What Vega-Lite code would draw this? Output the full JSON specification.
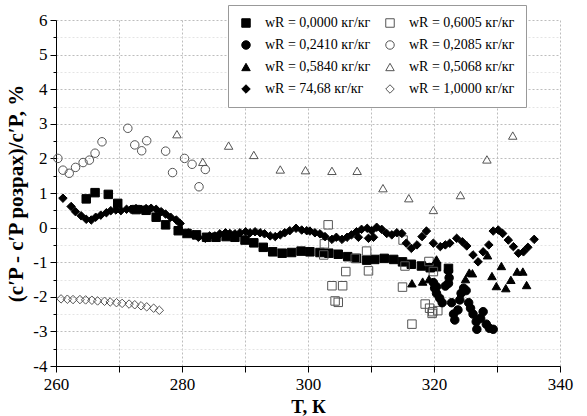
{
 "$schema": "https://vega.github.io/schema/vega-lite/v6.json",
 "width": 504, "height": 346,
 "autosize": "none",
 "padding": {"left": 56, "top": 20, "right": 27, "bottom": 50},
 "background": "white",
 "config": {"font": "Liberation Serif", "view": {"stroke": null},
  "legend": {"title": null, "orient": "none", "legendX": 172, "legendY": -15, "columns": 2, "direction": "horizontal",
    "labelFontSize": 14, "labelColor": "black", "labelFont": "Liberation Serif",
    "rowPadding": 8, "columnPadding": 12, "padding": 11, "labelOffset": 12,
    "strokeColor": "#999999", "fillColor": "white", "symbolStrokeWidth": 1}},
 "data": {"values": [
  {"T":264.8,"v":0.83,"s":"0,0000"},{"T":266.2,"v":1.01,"s":"0,0000"},{"T":268.3,"v":0.96,"s":"0,0000"},{"T":269.8,"v":0.70,"s":"0,0000"},{"T":272.7,"v":0.52,"s":"0,0000"},{"T":274.3,"v":0.50,"s":"0,0000"},{"T":275.9,"v":0.30,"s":"0,0000"},{"T":277.4,"v":0.08,"s":"0,0000"},{"T":279.4,"v":-0.09,"s":"0,0000"},{"T":280.8,"v":-0.17,"s":"0,0000"},{"T":282.3,"v":-0.21,"s":"0,0000"},{"T":283.9,"v":-0.28,"s":"0,0000"},{"T":285.4,"v":-0.28,"s":"0,0000"},{"T":287.0,"v":-0.26,"s":"0,0000"},{"T":288.4,"v":-0.28,"s":"0,0000"},{"T":290.0,"v":-0.36,"s":"0,0000"},{"T":291.4,"v":-0.44,"s":"0,0000"},{"T":292.9,"v":-0.57,"s":"0,0000"},{"T":294.4,"v":-0.70,"s":"0,0000"},{"T":295.9,"v":-0.74,"s":"0,0000"},{"T":297.4,"v":-0.72,"s":"0,0000"},{"T":298.9,"v":-0.68,"s":"0,0000"},{"T":300.3,"v":-0.70,"s":"0,0000"},{"T":301.9,"v":-0.72,"s":"0,0000"},{"T":303.3,"v":-0.74,"s":"0,0000"},{"T":304.8,"v":-0.77,"s":"0,0000"},{"T":306.3,"v":-0.84,"s":"0,0000"},{"T":307.7,"v":-0.89,"s":"0,0000"},{"T":309.3,"v":-0.94,"s":"0,0000"},{"T":310.6,"v":-0.92,"s":"0,0000"},{"T":312.1,"v":-0.89,"s":"0,0000"},{"T":313.6,"v":-0.92,"s":"0,0000"},{"T":315.0,"v":-0.99,"s":"0,0000"},{"T":316.4,"v":-1.06,"s":"0,0000"},{"T":318.0,"v":-1.11,"s":"0,0000"},{"T":319.4,"v":-1.16,"s":"0,0000"},{"T":320.4,"v":-1.13,"s":"0,0000"},{"T":322.3,"v":-1.18,"s":"0,0000"},
  {"T":303.2,"v":0.08,"s":"0,6005"},{"T":302.6,"v":-0.47,"s":"0,6005"},{"T":302.5,"v":-0.79,"s":"0,6005"},{"T":303.8,"v":-1.68,"s":"0,6005"},{"T":305.5,"v":-1.68,"s":"0,6005"},{"T":304.3,"v":-2.12,"s":"0,6005"},{"T":304.8,"v":-2.16,"s":"0,6005"},{"T":306.0,"v":-1.27,"s":"0,6005"},{"T":307.5,"v":-0.89,"s":"0,6005"},{"T":309.3,"v":-0.68,"s":"0,6005"},{"T":309.6,"v":-1.25,"s":"0,6005"},{"T":315.1,"v":-0.36,"s":"0,6005"},{"T":315.4,"v":-1.11,"s":"0,6005"},{"T":315.0,"v":-1.72,"s":"0,6005"},{"T":316.5,"v":-2.79,"s":"0,6005"},{"T":319.2,"v":-0.98,"s":"0,6005"},{"T":318.6,"v":-2.21,"s":"0,6005"},{"T":319.3,"v":-2.33,"s":"0,6005"},{"T":319.7,"v":-2.48,"s":"0,6005"},{"T":319.9,"v":-1.27,"s":"0,6005"},{"T":319.8,"v":-2.43,"s":"0,6005"},{"T":320.6,"v":-2.40,"s":"0,6005"},
  {"T":319.9,"v":-1.59,"s":"0,2410"},{"T":320.1,"v":-1.75,"s":"0,2410"},{"T":320.4,"v":-1.90,"s":"0,2410"},{"T":320.9,"v":-2.04,"s":"0,2410"},{"T":321.3,"v":-2.17,"s":"0,2410"},{"T":321.8,"v":-1.69,"s":"0,2410"},{"T":322.3,"v":-1.61,"s":"0,2410"},{"T":322.3,"v":-1.25,"s":"0,2410"},{"T":322.4,"v":-1.45,"s":"0,2410"},{"T":322.8,"v":-2.17,"s":"0,2410"},{"T":323.1,"v":-2.50,"s":"0,2410"},{"T":323.3,"v":-2.67,"s":"0,2410"},{"T":323.8,"v":-2.38,"s":"0,2410"},{"T":324.1,"v":-2.09,"s":"0,2410"},{"T":324.3,"v":-1.90,"s":"0,2410"},{"T":324.7,"v":-1.75,"s":"0,2410"},{"T":325.1,"v":-1.82,"s":"0,2410"},{"T":325.5,"v":-2.17,"s":"0,2410"},{"T":325.8,"v":-2.33,"s":"0,2410"},{"T":326.2,"v":-2.50,"s":"0,2410"},{"T":326.7,"v":-2.72,"s":"0,2410"},{"T":326.8,"v":-2.94,"s":"0,2410"},{"T":327.4,"v":-2.62,"s":"0,2410"},{"T":327.8,"v":-2.43,"s":"0,2410"},{"T":328.3,"v":-2.79,"s":"0,2410"},{"T":328.8,"v":-2.91,"s":"0,2410"},{"T":329.4,"v":-2.94,"s":"0,2410"},{"T":320.4,"v":-1.71,"s":"0,2410"},
  {"T":260.3,"v":2.0,"s":"0,2085"},{"T":261.1,"v":1.66,"s":"0,2085"},{"T":262.1,"v":1.57,"s":"0,2085"},{"T":263.1,"v":1.74,"s":"0,2085"},{"T":264.3,"v":1.88,"s":"0,2085"},{"T":265.3,"v":1.95,"s":"0,2085"},{"T":266.2,"v":2.15,"s":"0,2085"},{"T":267.3,"v":2.48,"s":"0,2085"},{"T":271.4,"v":2.87,"s":"0,2085"},{"T":272.5,"v":2.39,"s":"0,2085"},{"T":273.6,"v":2.22,"s":"0,2085"},{"T":274.4,"v":2.51,"s":"0,2085"},{"T":277.4,"v":2.21,"s":"0,2085"},{"T":278.5,"v":1.59,"s":"0,2085"},{"T":280.4,"v":2.0,"s":"0,2085"},{"T":281.6,"v":1.83,"s":"0,2085"},{"T":282.7,"v":1.18,"s":"0,2085"},{"T":283.7,"v":1.68,"s":"0,2085"},
  {"T":316.5,"v":-1.61,"s":"0,5840"},{"T":318.2,"v":-1.56,"s":"0,5840"},{"T":319.2,"v":-1.49,"s":"0,5840"},{"T":320.4,"v":-0.92,"s":"0,5840"},{"T":325.0,"v":-1.49,"s":"0,5840"},{"T":325.6,"v":-1.30,"s":"0,5840"},{"T":326.1,"v":-1.32,"s":"0,5840"},{"T":328.5,"v":-0.80,"s":"0,5840"},{"T":329.2,"v":-1.40,"s":"0,5840"},{"T":329.9,"v":-1.69,"s":"0,5840"},{"T":330.7,"v":-1.11,"s":"0,5840"},{"T":331.4,"v":-1.75,"s":"0,5840"},{"T":332.2,"v":-1.51,"s":"0,5840"},{"T":333.2,"v":-1.27,"s":"0,5840"},{"T":334.1,"v":-1.27,"s":"0,5840"},{"T":334.7,"v":-1.66,"s":"0,5840"},
  {"T":279.2,"v":2.70,"s":"0,5068"},{"T":283.3,"v":1.90,"s":"0,5068"},{"T":287.4,"v":2.37,"s":"0,5068"},{"T":291.4,"v":2.10,"s":"0,5068"},{"T":295.6,"v":1.68,"s":"0,5068"},{"T":299.6,"v":1.66,"s":"0,5068"},{"T":303.8,"v":1.64,"s":"0,5068"},{"T":307.8,"v":1.64,"s":"0,5068"},{"T":311.9,"v":1.14,"s":"0,5068"},{"T":316.0,"v":0.85,"s":"0,5068"},{"T":319.9,"v":0.51,"s":"0,5068"},{"T":324.2,"v":0.94,"s":"0,5068"},{"T":328.4,"v":1.97,"s":"0,5068"},{"T":332.5,"v":2.66,"s":"0,5068"},
  {"T":261.1,"v":0.85,"s":"74,68"},{"T":262.4,"v":0.61,"s":"74,68"},{"T":263.1,"v":0.46,"s":"74,68"},{"T":264.0,"v":0.34,"s":"74,68"},{"T":264.8,"v":0.24,"s":"74,68"},{"T":265.6,"v":0.22,"s":"74,68"},{"T":266.3,"v":0.30,"s":"74,68"},{"T":267.1,"v":0.36,"s":"74,68"},{"T":268.0,"v":0.43,"s":"74,68"},{"T":268.7,"v":0.49,"s":"74,68"},{"T":269.5,"v":0.51,"s":"74,68"},{"T":270.3,"v":0.49,"s":"74,68"},{"T":271.2,"v":0.53,"s":"74,68"},{"T":271.9,"v":0.53,"s":"74,68"},{"T":272.7,"v":0.55,"s":"74,68"},{"T":273.5,"v":0.53,"s":"74,68"},{"T":274.3,"v":0.55,"s":"74,68"},{"T":275.1,"v":0.56,"s":"74,68"},{"T":275.9,"v":0.53,"s":"74,68"},{"T":276.7,"v":0.46,"s":"74,68"},{"T":277.4,"v":0.39,"s":"74,68"},{"T":278.2,"v":0.30,"s":"74,68"},{"T":279.1,"v":0.22,"s":"74,68"},{"T":279.7,"v":0.12,"s":"74,68"},{"T":281.0,"v":-0.15,"s":"74,68"},{"T":281.8,"v":-0.21,"s":"74,68"},{"T":282.6,"v":-0.28,"s":"74,68"},{"T":283.7,"v":-0.31,"s":"74,68"},{"T":284.4,"v":-0.24,"s":"74,68"},{"T":285.2,"v":-0.24,"s":"74,68"},{"T":286.0,"v":-0.18,"s":"74,68"},{"T":286.9,"v":-0.15,"s":"74,68"},{"T":287.6,"v":-0.17,"s":"74,68"},{"T":288.4,"v":-0.18,"s":"74,68"},{"T":289.2,"v":-0.15,"s":"74,68"},{"T":290.1,"v":-0.12,"s":"74,68"},{"T":290.8,"v":-0.15,"s":"74,68"},{"T":291.6,"v":-0.12,"s":"74,68"},{"T":292.4,"v":-0.15,"s":"74,68"},{"T":293.1,"v":-0.18,"s":"74,68"},{"T":294.0,"v":-0.24,"s":"74,68"},{"T":294.8,"v":-0.26,"s":"74,68"},{"T":295.6,"v":-0.21,"s":"74,68"},{"T":296.3,"v":-0.15,"s":"74,68"},{"T":297.1,"v":-0.09,"s":"74,68"},{"T":298.1,"v":-0.02,"s":"74,68"},{"T":299.0,"v":-0.07,"s":"74,68"},{"T":299.8,"v":-0.09,"s":"74,68"},{"T":300.3,"v":-0.10,"s":"74,68"},{"T":301.1,"v":-0.15,"s":"74,68"},{"T":301.9,"v":-0.18,"s":"74,68"},{"T":302.7,"v":-0.26,"s":"74,68"},{"T":303.8,"v":-0.34,"s":"74,68"},{"T":304.5,"v":-0.28,"s":"74,68"},{"T":305.4,"v":-0.34,"s":"74,68"},{"T":306.2,"v":-0.28,"s":"74,68"},{"T":306.9,"v":-0.21,"s":"74,68"},{"T":307.7,"v":-0.12,"s":"74,68"},{"T":308.0,"v":-0.28,"s":"74,68"},{"T":308.5,"v":-0.05,"s":"74,68"},{"T":309.4,"v":-0.02,"s":"74,68"},{"T":309.6,"v":-0.31,"s":"74,68"},{"T":310.1,"v":-0.09,"s":"74,68"},{"T":310.4,"v":-0.28,"s":"74,68"},{"T":310.9,"v":0.01,"s":"74,68"},{"T":311.7,"v":-0.05,"s":"74,68"},{"T":312.5,"v":-0.17,"s":"74,68"},{"T":313.3,"v":-0.21,"s":"74,68"},{"T":314.1,"v":-0.15,"s":"74,68"},{"T":314.9,"v":-0.17,"s":"74,68"},{"T":315.6,"v":-0.45,"s":"74,68"},{"T":316.4,"v":-0.60,"s":"74,68"},{"T":317.3,"v":-0.50,"s":"74,68"},{"T":318.1,"v":-0.26,"s":"74,68"},{"T":318.8,"v":-0.10,"s":"74,68"},{"T":319.9,"v":-0.45,"s":"74,68"},{"T":321.0,"v":-0.55,"s":"74,68"},{"T":321.8,"v":-0.50,"s":"74,68"},{"T":322.5,"v":-0.45,"s":"74,68"},{"T":323.6,"v":-0.31,"s":"74,68"},{"T":324.5,"v":-0.41,"s":"74,68"},{"T":325.2,"v":-0.53,"s":"74,68"},{"T":326.2,"v":-0.79,"s":"74,68"},{"T":327.0,"v":-0.99,"s":"74,68"},{"T":327.8,"v":-0.70,"s":"74,68"},{"T":328.7,"v":-0.50,"s":"74,68"},{"T":329.4,"v":-0.10,"s":"74,68"},{"T":330.2,"v":-0.07,"s":"74,68"},{"T":330.9,"v":-0.17,"s":"74,68"},{"T":331.8,"v":-0.36,"s":"74,68"},{"T":332.6,"v":-0.55,"s":"74,68"},{"T":333.4,"v":-0.74,"s":"74,68"},{"T":334.2,"v":-0.70,"s":"74,68"},{"T":334.9,"v":-0.57,"s":"74,68"},{"T":335.9,"v":-0.34,"s":"74,68"},
  {"T":260.8,"v":-2.06,"s":"1,0000"},{"T":261.8,"v":-2.07,"s":"1,0000"},{"T":262.7,"v":-2.08,"s":"1,0000"},{"T":263.8,"v":-2.08,"s":"1,0000"},{"T":264.7,"v":-2.09,"s":"1,0000"},{"T":265.7,"v":-2.10,"s":"1,0000"},{"T":266.6,"v":-2.12,"s":"1,0000"},{"T":267.7,"v":-2.13,"s":"1,0000"},{"T":268.6,"v":-2.15,"s":"1,0000"},{"T":269.6,"v":-2.17,"s":"1,0000"},{"T":270.5,"v":-2.19,"s":"1,0000"},{"T":271.6,"v":-2.21,"s":"1,0000"},{"T":272.5,"v":-2.23,"s":"1,0000"},{"T":273.5,"v":-2.26,"s":"1,0000"},{"T":274.4,"v":-2.29,"s":"1,0000"},{"T":275.5,"v":-2.33,"s":"1,0000"},{"T":276.4,"v":-2.39,"s":"1,0000"}
 ]},
 "mark": {"type": "point", "filled": true, "strokeWidth": 1, "opacity": 1},
 "encoding": {
  "x": {"field": "T", "type": "quantitative", "scale": {"domain": [260, 340], "nice": false, "zero": false},
   "axis": {"values": [260,270,280,290,300,310,320,330,340], "labelExpr": "datum.value % 20 === 0 ? '' + datum.value : ''",
    "title": "T, К", "titleFontSize": 19, "titleFontWeight": "bold", "titleColor": "black", "titlePadding": 5,
    "labelFontSize": 17, "labelColor": "black", "labelPadding": 4, "labelFlush": false,
    "grid": true, "gridDash": [2,2], "gridColor": "#bdbdbd", "domainColor": "black", "tickColor": "black", "tickSize": 6}},
  "y": {"field": "v", "type": "quantitative", "scale": {"domain": [-4, 6], "nice": false, "zero": false},
   "axis": {"values": [-4,-3.5,-3,-2.5,-2,-1.5,-1,-0.5,0,0.5,1,1.5,2,2.5,3,3.5,4,4.5,5,5.5,6],
    "labelExpr": "datum.value % 1 === 0 ? '' + datum.value : ''",
    "title": "(c′P - c′P розрах)/c′P, %", "titleFontSize": 21, "titleFontWeight": "bold", "titleColor": "black", "titlePadding": 6,
    "labelFontSize": 17, "labelColor": "black", "labelPadding": 3, "labelFlush": false,
    "grid": true, "gridDash": [2,2],
    "gridColor": {"condition": {"test": "datum.value % 1 !== 0", "value": "#e4e4e4"}, "value": "#bdbdbd"},
    "tickSize": {"condition": {"test": "datum.value % 1 !== 0", "value": 3}, "value": 6},
    "domainColor": "black", "tickColor": "black"}},
  "size": {"field": "s", "type": "nominal",
   "scale": {"domain": ["0,0000","0,6005","0,2410","0,2085","0,5840","0,5068","74,68","1,0000"],
    "range": [72,72,78,78,72,72,100,100]},
   "legend": {"labelExpr": "'wR = ' + datum.label + ' кг/кг'"}},
  "shape": {"field": "s", "type": "nominal",
   "scale": {"domain": ["0,0000","0,6005","0,2410","0,2085","0,5840","0,5068","74,68","1,0000"],
    "range": ["square","square","circle","circle","triangle-up","triangle-up","diamond","diamond"]},
   "legend": {"labelExpr": "'wR = ' + datum.label + ' кг/кг'"}},
  "fill": {"field": "s", "type": "nominal",
   "scale": {"domain": ["0,0000","0,6005","0,2410","0,2085","0,5840","0,5068","74,68","1,0000"],
    "range": ["black","transparent","black","transparent","black","transparent","black","transparent"]},
   "legend": {"labelExpr": "'wR = ' + datum.label + ' кг/кг'"}},
  "stroke": {"field": "s", "type": "nominal",
   "scale": {"domain": ["0,0000","0,6005","0,2410","0,2085","0,5840","0,5068","74,68","1,0000"],
    "range": ["black","#555555","black","#555555","black","#555555","black","#555555"]},
   "legend": {"labelExpr": "'wR = ' + datum.label + ' кг/кг'"}}
 }
}
